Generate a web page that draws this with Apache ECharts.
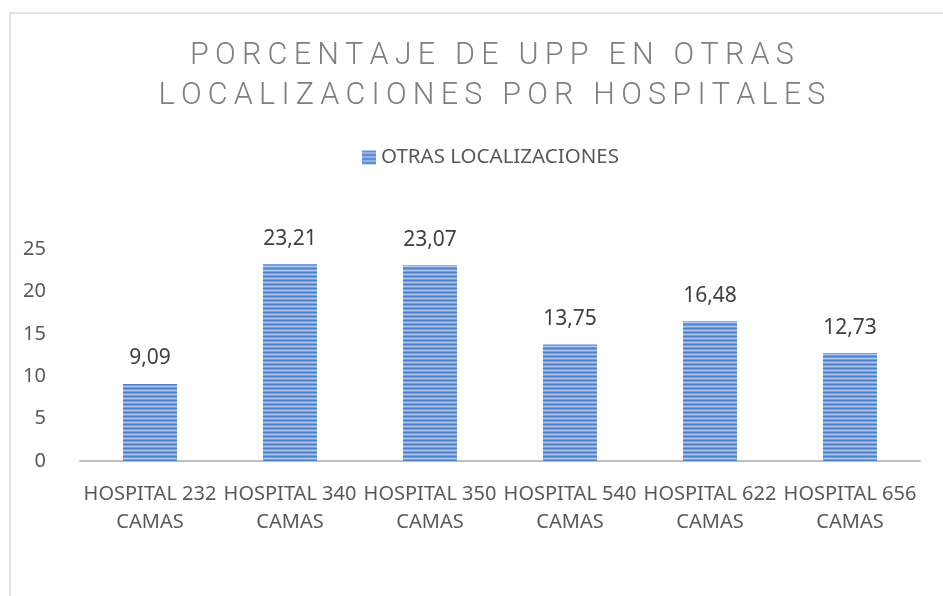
<!DOCTYPE html>
<html>
<head>
<meta charset="utf-8">
<script src="https://cdn.jsdelivr.net/npm/echarts@6/dist/echarts.min.js"></script>
<style>
html,body{margin:0;padding:0;background:#fff;}
#chart{width:943px;height:596px;}
</style>
</head>
<body>
<div id="chart"></div>
<script>
// datos
var categorias = ['HOSPITAL 232\nCAMAS', 'HOSPITAL 340\nCAMAS', 'HOSPITAL 350\nCAMAS', 'HOSPITAL 540\nCAMAS', 'HOSPITAL 622\nCAMAS', 'HOSPITAL 656\nCAMAS'];
var valores = [9.09, 23.21, 23.07, 13.75, 16.48, 12.73];
var nombreSerie = 'OTRAS LOCALIZACIONES';
var titulo = 'PORCENTAJE DE UPP EN OTRAS\nLOCALIZACIONES POR HOSPITALES';

// separa las letras del titulo (espaciado amplio)
function espaciar(txt) {
    return txt.split('\n').map(function (l) {
        return l.split('').join('\u200A\u200A');
    }).join('\n');
}

// patron de rayas horizontales para las barras
function rayas() {
    var c = document.createElement('canvas');
    c.width = 4; c.height = 4;
    var ctx = c.getContext('2d');
    var filas = ['#4e7fc8', '#779fde', '#adc8ef', '#779fde'];
    for (var i = 0; i < 4; i++) {
        ctx.fillStyle = filas[i];
        ctx.fillRect(0, i, 4, 1);
    }
    return c;
}

var dom = document.getElementById('chart');
var myChart = echarts.init(dom, null, {renderer: 'canvas'});
var fuente = '"Noto Sans", sans-serif';

myChart.setOption({
    animation: false,
    title: {
        text: espaciar(titulo),
        left: 487,
        textAlign: 'center',
        top: 31,
        textStyle: {
            fontFamily: 'Roboto, sans-serif',
            fontWeight: 300,
            fontSize: 30.5,
            color: '#7f7f7f',
            lineHeight: 40
        }
    },
    legend: {
        data: [nombreSerie],
        top: 142,
        left: 357,
        itemWidth: 14,
        itemHeight: 14,
        itemGap: 6,
        icon: 'rect',
        textStyle: {
            fontFamily: fuente,
            fontSize: 20.5,
            color: '#595959'
        }
    },
    graphic: [{
        type: 'rect',
        shape: {x: 10, y: 13, width: 960, height: 620},
        style: {fill: 'none', stroke: '#d9d9d9', lineWidth: 1.5},
        silent: true,
        z: -1
    }],
    grid: {
        left: 80,
        right: 23,
        top: 249,
        bottom: 135,
        containLabel: false
    },
    xAxis: {
        type: 'category',
        data: categorias,
        axisLine: {show: true, lineStyle: {color: '#bfbfbf', width: 2}},
        axisTick: {show: false},
        axisLabel: {
            interval: 0,
            margin: 19,
            fontFamily: fuente,
            fontSize: 20,
            lineHeight: 28,
            color: '#595959'
        }
    },
    yAxis: {
        type: 'value',
        min: 0,
        max: 25,
        interval: 5,
        axisLine: {show: false},
        axisTick: {show: false},
        splitLine: {show: false},
        axisLabel: {
            margin: 34,
            fontFamily: fuente,
            fontSize: 20,
            color: '#595959'
        }
    },
    series: [{
        name: nombreSerie,
        type: 'bar',
        data: valores,
        barWidth: 54,
        itemStyle: {
            color: {image: rayas(), repeat: 'repeat'}
        },
        label: {
            show: true,
            position: 'top',
            distance: 15,
            fontFamily: fuente,
            fontSize: 21,
            color: '#404040',
            formatter: function (p) {
                return p.value.toFixed(2).replace('.', ',');
            }
        }
    }]
});
window.addEventListener('resize', function () {
    myChart.resize();
});
</script>
</body>
</html>
